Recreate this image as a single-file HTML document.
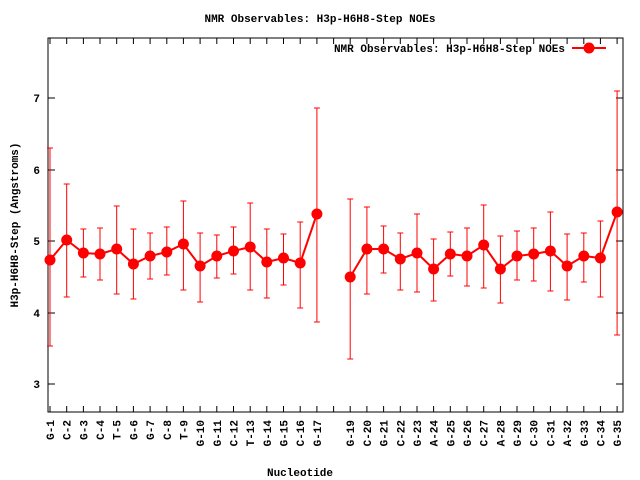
<!DOCTYPE html>
<html><head><meta charset="utf-8"><style>body{margin:0;background:#fff}svg{display:block}</style></head><body>
<svg width="640" height="480" xmlns="http://www.w3.org/2000/svg" font-family="Liberation Mono, monospace" font-size="11" font-weight="bold">
<rect width="640" height="480" fill="#fff"/>
<text x="320" y="22" text-anchor="middle">NMR Observables: H3p-H6H8-Step NOEs</text>
<text x="300" y="476" text-anchor="middle">Nucleotide</text>
<text transform="translate(18,225) rotate(-90)" text-anchor="middle">H3p-H6H8-Step (Angstroms)</text>
<rect x="48" y="38" width="575" height="374" fill="none" stroke="#000"/>
<path stroke="#000" fill="none" d="M48 384h7M623 384h-7M48 313h7M623 313h-7M48 241h7M623 241h-7M48 170h7M623 170h-7M48 98h7M623 98h-7
M50 412v-6M66.7 412v-6M83.4 412v-6M100 412v-6M116.7 412v-6M133.4 412v-6M150.1 412v-6M166.8 412v-6M183.4 412v-6M200.1 412v-6M216.8 412v-6M233.5 412v-6M250.2 412v-6M266.8 412v-6M283.5 412v-6M300.2 412v-6M316.9 412v-6M333.6 412v-6M350.2 412v-6M366.9 412v-6M383.6 412v-6M400.3 412v-6M417 412v-6M433.6 412v-6M450.3 412v-6M467 412v-6M483.7 412v-6M500.4 412v-6M517 412v-6M533.7 412v-6M550.4 412v-6M567.1 412v-6M583.8 412v-6M600.4 412v-6M617.1 412v-6
M50 38v6M66.7 38v6M83.4 38v6M100 38v6M116.7 38v6M133.4 38v6M150.1 38v6M166.8 38v6M183.4 38v6M200.1 38v6M216.8 38v6M233.5 38v6M250.2 38v6M266.8 38v6M283.5 38v6M300.2 38v6M316.9 38v6M333.6 38v6M350.2 38v6M366.9 38v6M383.6 38v6M400.3 38v6M417 38v6M433.6 38v6M450.3 38v6M467 38v6M483.7 38v6M500.4 38v6M517 38v6M533.7 38v6M550.4 38v6M567.1 38v6M583.8 38v6M600.4 38v6M617.1 38v6"/>
<g text-anchor="end"><text x="40" y="388">3</text><text x="40" y="317">4</text><text x="40" y="245">5</text><text x="40" y="174">6</text><text x="40" y="102">7</text></g>
<g text-anchor="end">
<text transform="translate(54,420) rotate(-90)">G-1</text>
<text transform="translate(70.7,420) rotate(-90)">C-2</text>
<text transform="translate(87.4,420) rotate(-90)">G-3</text>
<text transform="translate(104,420) rotate(-90)">C-4</text>
<text transform="translate(120.7,420) rotate(-90)">T-5</text>
<text transform="translate(137.4,420) rotate(-90)">G-6</text>
<text transform="translate(154.1,420) rotate(-90)">G-7</text>
<text transform="translate(170.8,420) rotate(-90)">C-8</text>
<text transform="translate(187.4,420) rotate(-90)">T-9</text>
<text transform="translate(204.1,420) rotate(-90)">G-10</text>
<text transform="translate(220.8,420) rotate(-90)">G-11</text>
<text transform="translate(237.5,420) rotate(-90)">C-12</text>
<text transform="translate(254.2,420) rotate(-90)">T-13</text>
<text transform="translate(270.8,420) rotate(-90)">G-14</text>
<text transform="translate(287.5,420) rotate(-90)">G-15</text>
<text transform="translate(304.2,420) rotate(-90)">C-16</text>
<text transform="translate(320.9,420) rotate(-90)">G-17</text>
<text transform="translate(354.2,420) rotate(-90)">G-19</text>
<text transform="translate(370.9,420) rotate(-90)">C-20</text>
<text transform="translate(387.6,420) rotate(-90)">G-21</text>
<text transform="translate(404.3,420) rotate(-90)">C-22</text>
<text transform="translate(421,420) rotate(-90)">G-23</text>
<text transform="translate(437.6,420) rotate(-90)">A-24</text>
<text transform="translate(454.3,420) rotate(-90)">G-25</text>
<text transform="translate(471,420) rotate(-90)">G-26</text>
<text transform="translate(487.7,420) rotate(-90)">C-27</text>
<text transform="translate(504.4,420) rotate(-90)">A-28</text>
<text transform="translate(521,420) rotate(-90)">G-29</text>
<text transform="translate(537.7,420) rotate(-90)">C-30</text>
<text transform="translate(554.4,420) rotate(-90)">C-31</text>
<text transform="translate(571.1,420) rotate(-90)">A-32</text>
<text transform="translate(587.8,420) rotate(-90)">G-33</text>
<text transform="translate(604.4,420) rotate(-90)">C-34</text>
<text transform="translate(621.1,420) rotate(-90)">G-35</text>
</g>
<path stroke="#f00" fill="none" d="
M50 148V346M47 148h6M47 346h6
M66.7 184V297M63.7 184h6M63.7 297h6
M83.4 229V277M80.4 229h6M80.4 277h6
M100 228V280M97 228h6M97 280h6
M116.7 206V294M113.7 206h6M113.7 294h6
M133.4 229V299M130.4 229h6M130.4 299h6
M150.1 233V279M147.1 233h6M147.1 279h6
M166.8 227V275M163.8 227h6M163.8 275h6
M183.4 201V290M180.4 201h6M180.4 290h6
M200.1 233V302M197.1 233h6M197.1 302h6
M216.8 235V278M213.8 235h6M213.8 278h6
M233.5 227V274M230.5 227h6M230.5 274h6
M250.2 203V290M247.2 203h6M247.2 290h6
M266.8 229V298M263.8 229h6M263.8 298h6
M283.5 234V285M280.5 234h6M280.5 285h6
M300.2 222V308M297.2 222h6M297.2 308h6
M316.9 108V322M313.9 108h6M313.9 322h6
M350.2 199V359M347.2 199h6M347.2 359h6
M366.9 207V294M363.9 207h6M363.9 294h6
M383.6 226V273M380.6 226h6M380.6 273h6
M400.3 233V290M397.3 233h6M397.3 290h6
M417 214V292M414 214h6M414 292h6
M433.6 239V301M430.6 239h6M430.6 301h6
M450.3 232V276M447.3 232h6M447.3 276h6
M467 228V286M464 228h6M464 286h6
M483.7 205V288M480.7 205h6M480.7 288h6
M500.4 236V303M497.4 236h6M497.4 303h6
M517 231V280M514 231h6M514 280h6
M533.7 228V281M530.7 228h6M530.7 281h6
M550.4 212V291M547.4 212h6M547.4 291h6
M567.1 234V300M564.1 234h6M564.1 300h6
M583.8 233V282M580.8 233h6M580.8 282h6
M600.4 221V297M597.4 221h6M597.4 297h6
M617.1 91V335M614.1 91h6M614.1 335h6"/>
<polyline fill="none" stroke="#f00" stroke-width="2" points="50,260 66.7,240 83.4,253 100,254 116.7,249 133.4,264 150.1,256 166.8,252 183.4,244 200.1,266 216.8,256 233.5,251 250.2,247 266.8,262 283.5,258 300.2,263 316.9,214"/>
<polyline fill="none" stroke="#f00" stroke-width="2" points="350.2,277 366.9,249 383.6,249 400.3,259 417,253 433.6,269 450.3,254 467,256 483.7,245 500.4,269 517,256 533.7,254 550.4,251 567.1,266 583.8,256 600.4,258 617.1,212"/>
<g fill="#f00">
<circle cx="50" cy="260" r="5.5"/><circle cx="66.7" cy="240" r="5.5"/><circle cx="83.4" cy="253" r="5.5"/><circle cx="100" cy="254" r="5.5"/><circle cx="116.7" cy="249" r="5.5"/><circle cx="133.4" cy="264" r="5.5"/><circle cx="150.1" cy="256" r="5.5"/><circle cx="166.8" cy="252" r="5.5"/><circle cx="183.4" cy="244" r="5.5"/><circle cx="200.1" cy="266" r="5.5"/><circle cx="216.8" cy="256" r="5.5"/><circle cx="233.5" cy="251" r="5.5"/><circle cx="250.2" cy="247" r="5.5"/><circle cx="266.8" cy="262" r="5.5"/><circle cx="283.5" cy="258" r="5.5"/><circle cx="300.2" cy="263" r="5.5"/><circle cx="316.9" cy="214" r="5.5"/>
<circle cx="350.2" cy="277" r="5.5"/><circle cx="366.9" cy="249" r="5.5"/><circle cx="383.6" cy="249" r="5.5"/><circle cx="400.3" cy="259" r="5.5"/><circle cx="417" cy="253" r="5.5"/><circle cx="433.6" cy="269" r="5.5"/><circle cx="450.3" cy="254" r="5.5"/><circle cx="467" cy="256" r="5.5"/><circle cx="483.7" cy="245" r="5.5"/><circle cx="500.4" cy="269" r="5.5"/><circle cx="517" cy="256" r="5.5"/><circle cx="533.7" cy="254" r="5.5"/><circle cx="550.4" cy="251" r="5.5"/><circle cx="567.1" cy="266" r="5.5"/><circle cx="583.8" cy="256" r="5.5"/><circle cx="600.4" cy="258" r="5.5"/><circle cx="617.1" cy="212" r="5.5"/>
</g>
<text x="565" y="52" text-anchor="end">NMR Observables: H3p-H6H8-Step NOEs</text>
<line x1="572" y1="48" x2="606" y2="48" stroke="#f00" stroke-width="2"/>
<circle cx="589" cy="48" r="5.5" fill="#f00"/>
</svg>
</body></html>
